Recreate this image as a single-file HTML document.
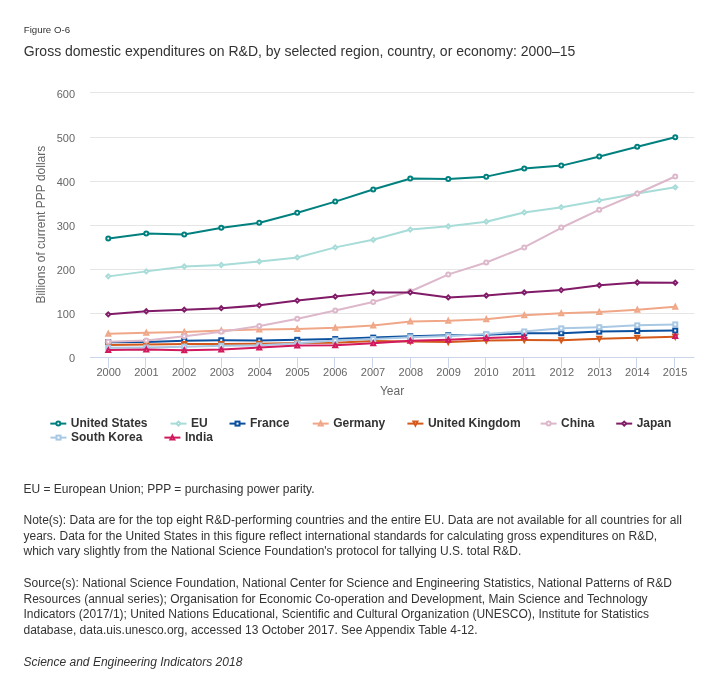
<!DOCTYPE html>
<html><head><meta charset="utf-8"><title>Figure O-6</title>
<style>
html,body{margin:0;padding:0;background:#fff;}
body{width:724px;height:693px;overflow:hidden;position:relative;font-family:"Liberation Sans",sans-serif;}
svg{position:absolute;left:0;top:0;will-change:transform;}
text{font-family:"Liberation Sans",sans-serif;}
.ax{font-size:11px;fill:#666666;}
.at{font-size:12px;fill:#666666;}
.lg{font-size:12px;font-weight:bold;fill:#333333;}
.nt{font-size:12px;fill:#333333;}
.fig{font-size:9.7px;fill:#333333;}
.ttl{font-size:14px;fill:#333333;}
</style></head>
<body>
<svg width="724" height="693" viewBox="0 0 724 693">
<text x="23.8" y="32.9" class="fig">Figure O-6</text>
<text x="23.8" y="55.6" class="ttl">Gross domestic expenditures on R&amp;D, by selected region, country, or economy: 2000–15</text>
<rect x="90" y="92" width="604.5" height="1" fill="#e6e6e6"/>
<rect x="90" y="137" width="604.5" height="1" fill="#e6e6e6"/>
<rect x="90" y="181" width="604.5" height="1" fill="#e6e6e6"/>
<rect x="90" y="225" width="604.5" height="1" fill="#e6e6e6"/>
<rect x="90" y="269" width="604.5" height="1" fill="#e6e6e6"/>
<rect x="90" y="313" width="604.5" height="1" fill="#e6e6e6"/>
<rect x="90" y="357" width="604.5" height="1" fill="#ccd6eb"/>
<rect x="108" y="358" width="1" height="10" fill="#ccd6eb"/>
<rect x="145" y="358" width="1" height="10" fill="#ccd6eb"/>
<rect x="183" y="358" width="1" height="10" fill="#ccd6eb"/>
<rect x="221" y="358" width="1" height="10" fill="#ccd6eb"/>
<rect x="259" y="358" width="1" height="10" fill="#ccd6eb"/>
<rect x="297" y="358" width="1" height="10" fill="#ccd6eb"/>
<rect x="334" y="358" width="1" height="10" fill="#ccd6eb"/>
<rect x="372" y="358" width="1" height="10" fill="#ccd6eb"/>
<rect x="410" y="358" width="1" height="10" fill="#ccd6eb"/>
<rect x="448" y="358" width="1" height="10" fill="#ccd6eb"/>
<rect x="485" y="358" width="1" height="10" fill="#ccd6eb"/>
<rect x="523" y="358" width="1" height="10" fill="#ccd6eb"/>
<rect x="561" y="358" width="1" height="10" fill="#ccd6eb"/>
<rect x="599" y="358" width="1" height="10" fill="#ccd6eb"/>
<rect x="636" y="358" width="1" height="10" fill="#ccd6eb"/>
<rect x="674" y="358" width="1" height="10" fill="#ccd6eb"/>
<text x="75" y="362" text-anchor="end" class="ax">0</text>
<text x="75" y="318" text-anchor="end" class="ax">100</text>
<text x="75" y="274" text-anchor="end" class="ax">200</text>
<text x="75" y="230" text-anchor="end" class="ax">300</text>
<text x="75" y="186" text-anchor="end" class="ax">400</text>
<text x="75" y="142" text-anchor="end" class="ax">500</text>
<text x="75" y="98" text-anchor="end" class="ax">600</text>
<text x="108.70" y="376" text-anchor="middle" class="ax">2000</text>
<text x="146.46" y="376" text-anchor="middle" class="ax">2001</text>
<text x="184.22" y="376" text-anchor="middle" class="ax">2002</text>
<text x="221.98" y="376" text-anchor="middle" class="ax">2003</text>
<text x="259.74" y="376" text-anchor="middle" class="ax">2004</text>
<text x="297.50" y="376" text-anchor="middle" class="ax">2005</text>
<text x="335.26" y="376" text-anchor="middle" class="ax">2006</text>
<text x="373.02" y="376" text-anchor="middle" class="ax">2007</text>
<text x="410.78" y="376" text-anchor="middle" class="ax">2008</text>
<text x="448.54" y="376" text-anchor="middle" class="ax">2009</text>
<text x="486.30" y="376" text-anchor="middle" class="ax">2010</text>
<text x="524.06" y="376" text-anchor="middle" class="ax">2011</text>
<text x="561.82" y="376" text-anchor="middle" class="ax">2012</text>
<text x="599.58" y="376" text-anchor="middle" class="ax">2013</text>
<text x="637.34" y="376" text-anchor="middle" class="ax">2014</text>
<text x="675.10" y="376" text-anchor="middle" class="ax">2015</text>
<text x="392" y="394.7" text-anchor="middle" class="at">Year</text>
<text transform="translate(45.2 224.7) rotate(-90)" text-anchor="middle" class="at">Billions of current PPP dollars</text>
<path d="M108.70 238.43L146.46 233.61L184.22 234.50L221.98 227.65L259.74 222.79L297.50 212.81L335.26 201.59L373.02 189.45L410.78 178.54L448.54 178.93L486.30 176.64L524.06 168.47L561.82 165.60L599.58 156.41L637.34 146.83L675.10 137.33" fill="none" stroke="#00807e" stroke-width="2" stroke-linejoin="round" stroke-linecap="round"/>
<circle cx="108.25" cy="238.43" r="2.0" fill="#fff" stroke="#00807e" stroke-width="2"/>
<circle cx="146.25" cy="233.61" r="2.0" fill="#fff" stroke="#00807e" stroke-width="2"/>
<circle cx="184.25" cy="234.50" r="2.0" fill="#fff" stroke="#00807e" stroke-width="2"/>
<circle cx="221.25" cy="227.65" r="2.0" fill="#fff" stroke="#00807e" stroke-width="2"/>
<circle cx="259.25" cy="222.79" r="2.0" fill="#fff" stroke="#00807e" stroke-width="2"/>
<circle cx="297.25" cy="212.81" r="2.0" fill="#fff" stroke="#00807e" stroke-width="2"/>
<circle cx="335.25" cy="201.59" r="2.0" fill="#fff" stroke="#00807e" stroke-width="2"/>
<circle cx="373.25" cy="189.45" r="2.0" fill="#fff" stroke="#00807e" stroke-width="2"/>
<circle cx="410.25" cy="178.54" r="2.0" fill="#fff" stroke="#00807e" stroke-width="2"/>
<circle cx="448.25" cy="178.93" r="2.0" fill="#fff" stroke="#00807e" stroke-width="2"/>
<circle cx="486.25" cy="176.64" r="2.0" fill="#fff" stroke="#00807e" stroke-width="2"/>
<circle cx="524.25" cy="168.47" r="2.0" fill="#fff" stroke="#00807e" stroke-width="2"/>
<circle cx="561.25" cy="165.60" r="2.0" fill="#fff" stroke="#00807e" stroke-width="2"/>
<circle cx="599.25" cy="156.41" r="2.0" fill="#fff" stroke="#00807e" stroke-width="2"/>
<circle cx="637.25" cy="146.83" r="2.0" fill="#fff" stroke="#00807e" stroke-width="2"/>
<circle cx="675.25" cy="137.33" r="2.0" fill="#fff" stroke="#00807e" stroke-width="2"/>
<path d="M108.70 276.37L146.46 271.38L184.22 266.52L221.98 264.97L259.74 261.53L297.50 257.42L335.26 247.39L373.02 239.80L410.78 229.59L448.54 226.33L486.30 221.69L524.06 212.41L561.82 207.20L599.58 200.40L637.34 193.51L675.10 187.33" fill="none" stroke="#a7dcd8" stroke-width="2" stroke-linejoin="round" stroke-linecap="round"/>
<path d="M108.25 274.37L110.25 276.37L108.25 278.37L106.25 276.37Z" fill="#fff" stroke="#a7dcd8" stroke-width="2"/>
<path d="M146.25 269.38L148.25 271.38L146.25 273.38L144.25 271.38Z" fill="#fff" stroke="#a7dcd8" stroke-width="2"/>
<path d="M184.25 264.52L186.25 266.52L184.25 268.52L182.25 266.52Z" fill="#fff" stroke="#a7dcd8" stroke-width="2"/>
<path d="M221.25 262.97L223.25 264.97L221.25 266.97L219.25 264.97Z" fill="#fff" stroke="#a7dcd8" stroke-width="2"/>
<path d="M259.25 259.53L261.25 261.53L259.25 263.53L257.25 261.53Z" fill="#fff" stroke="#a7dcd8" stroke-width="2"/>
<path d="M297.25 255.42L299.25 257.42L297.25 259.42L295.25 257.42Z" fill="#fff" stroke="#a7dcd8" stroke-width="2"/>
<path d="M335.25 245.39L337.25 247.39L335.25 249.39L333.25 247.39Z" fill="#fff" stroke="#a7dcd8" stroke-width="2"/>
<path d="M373.25 237.80L375.25 239.80L373.25 241.80L371.25 239.80Z" fill="#fff" stroke="#a7dcd8" stroke-width="2"/>
<path d="M410.25 227.59L412.25 229.59L410.25 231.59L408.25 229.59Z" fill="#fff" stroke="#a7dcd8" stroke-width="2"/>
<path d="M448.25 224.33L450.25 226.33L448.25 228.33L446.25 226.33Z" fill="#fff" stroke="#a7dcd8" stroke-width="2"/>
<path d="M486.25 219.69L488.25 221.69L486.25 223.69L484.25 221.69Z" fill="#fff" stroke="#a7dcd8" stroke-width="2"/>
<path d="M524.25 210.41L526.25 212.41L524.25 214.41L522.25 212.41Z" fill="#fff" stroke="#a7dcd8" stroke-width="2"/>
<path d="M561.25 205.20L563.25 207.20L561.25 209.20L559.25 207.20Z" fill="#fff" stroke="#a7dcd8" stroke-width="2"/>
<path d="M599.25 198.40L601.25 200.40L599.25 202.40L597.25 200.40Z" fill="#fff" stroke="#a7dcd8" stroke-width="2"/>
<path d="M637.25 191.51L639.25 193.51L637.25 195.51L635.25 193.51Z" fill="#fff" stroke="#a7dcd8" stroke-width="2"/>
<path d="M675.25 185.33L677.25 187.33L675.25 189.33L673.25 187.33Z" fill="#fff" stroke="#a7dcd8" stroke-width="2"/>
<path d="M108.70 342.26L146.46 342.04L184.22 340.72L221.98 340.27L259.74 340.50L297.50 339.83L335.26 339.04L373.02 337.62L410.78 336.30L448.54 335.28L486.30 334.80L524.06 333.21L561.82 333.21L599.58 331.62L637.34 331.00L675.10 330.56" fill="none" stroke="#0b4f9f" stroke-width="2" stroke-linejoin="round" stroke-linecap="round"/>
<rect x="106.25" y="340.26" width="4.0" height="4.0" fill="#fff" stroke="#0b4f9f" stroke-width="2"/>
<rect x="144.25" y="340.04" width="4.0" height="4.0" fill="#fff" stroke="#0b4f9f" stroke-width="2"/>
<rect x="182.25" y="338.72" width="4.0" height="4.0" fill="#fff" stroke="#0b4f9f" stroke-width="2"/>
<rect x="219.25" y="338.27" width="4.0" height="4.0" fill="#fff" stroke="#0b4f9f" stroke-width="2"/>
<rect x="257.25" y="338.50" width="4.0" height="4.0" fill="#fff" stroke="#0b4f9f" stroke-width="2"/>
<rect x="295.25" y="337.83" width="4.0" height="4.0" fill="#fff" stroke="#0b4f9f" stroke-width="2"/>
<rect x="333.25" y="337.04" width="4.0" height="4.0" fill="#fff" stroke="#0b4f9f" stroke-width="2"/>
<rect x="371.25" y="335.62" width="4.0" height="4.0" fill="#fff" stroke="#0b4f9f" stroke-width="2"/>
<rect x="408.25" y="334.30" width="4.0" height="4.0" fill="#fff" stroke="#0b4f9f" stroke-width="2"/>
<rect x="446.25" y="333.28" width="4.0" height="4.0" fill="#fff" stroke="#0b4f9f" stroke-width="2"/>
<rect x="484.25" y="332.80" width="4.0" height="4.0" fill="#fff" stroke="#0b4f9f" stroke-width="2"/>
<rect x="522.25" y="331.21" width="4.0" height="4.0" fill="#fff" stroke="#0b4f9f" stroke-width="2"/>
<rect x="559.25" y="331.21" width="4.0" height="4.0" fill="#fff" stroke="#0b4f9f" stroke-width="2"/>
<rect x="597.25" y="329.62" width="4.0" height="4.0" fill="#fff" stroke="#0b4f9f" stroke-width="2"/>
<rect x="635.25" y="329.00" width="4.0" height="4.0" fill="#fff" stroke="#0b4f9f" stroke-width="2"/>
<rect x="673.25" y="328.56" width="4.0" height="4.0" fill="#fff" stroke="#0b4f9f" stroke-width="2"/>
<path d="M108.70 333.74L146.46 332.68L184.22 331.88L221.98 330.56L259.74 329.45L297.50 328.88L335.26 327.78L373.02 325.48L410.78 321.50L448.54 320.84L486.30 319.30L524.06 315.19L561.82 313.33L599.58 312.01L637.34 309.80L675.10 306.71" fill="none" stroke="#f0a788" stroke-width="2" stroke-linejoin="round" stroke-linecap="round"/>
<path d="M108.25 331.74L110.25 335.74L106.25 335.74Z" fill="#fff" stroke="#f0a788" stroke-width="2"/>
<path d="M146.25 330.68L148.25 334.68L144.25 334.68Z" fill="#fff" stroke="#f0a788" stroke-width="2"/>
<path d="M184.25 329.88L186.25 333.88L182.25 333.88Z" fill="#fff" stroke="#f0a788" stroke-width="2"/>
<path d="M221.25 328.56L223.25 332.56L219.25 332.56Z" fill="#fff" stroke="#f0a788" stroke-width="2"/>
<path d="M259.25 327.45L261.25 331.45L257.25 331.45Z" fill="#fff" stroke="#f0a788" stroke-width="2"/>
<path d="M297.25 326.88L299.25 330.88L295.25 330.88Z" fill="#fff" stroke="#f0a788" stroke-width="2"/>
<path d="M335.25 325.78L337.25 329.78L333.25 329.78Z" fill="#fff" stroke="#f0a788" stroke-width="2"/>
<path d="M373.25 323.48L375.25 327.48L371.25 327.48Z" fill="#fff" stroke="#f0a788" stroke-width="2"/>
<path d="M410.25 319.50L412.25 323.50L408.25 323.50Z" fill="#fff" stroke="#f0a788" stroke-width="2"/>
<path d="M448.25 318.84L450.25 322.84L446.25 322.84Z" fill="#fff" stroke="#f0a788" stroke-width="2"/>
<path d="M486.25 317.30L488.25 321.30L484.25 321.30Z" fill="#fff" stroke="#f0a788" stroke-width="2"/>
<path d="M524.25 313.19L526.25 317.19L522.25 317.19Z" fill="#fff" stroke="#f0a788" stroke-width="2"/>
<path d="M561.25 311.33L563.25 315.33L559.25 315.33Z" fill="#fff" stroke="#f0a788" stroke-width="2"/>
<path d="M599.25 310.01L601.25 314.01L597.25 314.01Z" fill="#fff" stroke="#f0a788" stroke-width="2"/>
<path d="M637.25 307.80L639.25 311.80L635.25 311.80Z" fill="#fff" stroke="#f0a788" stroke-width="2"/>
<path d="M675.25 304.71L677.25 308.71L673.25 308.71Z" fill="#fff" stroke="#f0a788" stroke-width="2"/>
<path d="M108.70 344.91L146.46 344.47L184.22 344.12L221.98 344.03L259.74 343.81L297.50 342.93L335.26 342.70L373.02 340.94L410.78 341.38L448.54 342.04L486.30 340.58L524.06 340.05L561.82 340.27L599.58 338.82L637.34 337.80L675.10 336.74" fill="none" stroke="#d4591b" stroke-width="2" stroke-linejoin="round" stroke-linecap="round"/>
<path d="M106.25 342.91L110.25 342.91L108.25 346.91Z" fill="#fff" stroke="#d4591b" stroke-width="2"/>
<path d="M144.25 342.47L148.25 342.47L146.25 346.47Z" fill="#fff" stroke="#d4591b" stroke-width="2"/>
<path d="M182.25 342.12L186.25 342.12L184.25 346.12Z" fill="#fff" stroke="#d4591b" stroke-width="2"/>
<path d="M219.25 342.03L223.25 342.03L221.25 346.03Z" fill="#fff" stroke="#d4591b" stroke-width="2"/>
<path d="M257.25 341.81L261.25 341.81L259.25 345.81Z" fill="#fff" stroke="#d4591b" stroke-width="2"/>
<path d="M295.25 340.93L299.25 340.93L297.25 344.93Z" fill="#fff" stroke="#d4591b" stroke-width="2"/>
<path d="M333.25 340.70L337.25 340.70L335.25 344.70Z" fill="#fff" stroke="#d4591b" stroke-width="2"/>
<path d="M371.25 338.94L375.25 338.94L373.25 342.94Z" fill="#fff" stroke="#d4591b" stroke-width="2"/>
<path d="M408.25 339.38L412.25 339.38L410.25 343.38Z" fill="#fff" stroke="#d4591b" stroke-width="2"/>
<path d="M446.25 340.04L450.25 340.04L448.25 344.04Z" fill="#fff" stroke="#d4591b" stroke-width="2"/>
<path d="M484.25 338.58L488.25 338.58L486.25 342.58Z" fill="#fff" stroke="#d4591b" stroke-width="2"/>
<path d="M522.25 338.05L526.25 338.05L524.25 342.05Z" fill="#fff" stroke="#d4591b" stroke-width="2"/>
<path d="M559.25 338.27L563.25 338.27L561.25 342.27Z" fill="#fff" stroke="#d4591b" stroke-width="2"/>
<path d="M597.25 336.82L601.25 336.82L599.25 340.82Z" fill="#fff" stroke="#d4591b" stroke-width="2"/>
<path d="M635.25 335.80L639.25 335.80L637.25 339.80Z" fill="#fff" stroke="#d4591b" stroke-width="2"/>
<path d="M673.25 334.74L677.25 334.74L675.25 338.74Z" fill="#fff" stroke="#d4591b" stroke-width="2"/>
<path d="M108.70 341.82L146.46 340.50L184.22 336.21L221.98 331.66L259.74 325.92L297.50 318.72L335.26 310.51L373.02 302.07L410.78 291.25L448.54 274.42L486.30 262.54L524.06 247.39L561.82 227.52L599.58 209.63L637.34 193.51L675.10 176.50" fill="none" stroke="#dcb8ca" stroke-width="2" stroke-linejoin="round" stroke-linecap="round"/>
<circle cx="108.25" cy="341.82" r="2.0" fill="#fff" stroke="#dcb8ca" stroke-width="2"/>
<circle cx="146.25" cy="340.50" r="2.0" fill="#fff" stroke="#dcb8ca" stroke-width="2"/>
<circle cx="184.25" cy="336.21" r="2.0" fill="#fff" stroke="#dcb8ca" stroke-width="2"/>
<circle cx="221.25" cy="331.66" r="2.0" fill="#fff" stroke="#dcb8ca" stroke-width="2"/>
<circle cx="259.25" cy="325.92" r="2.0" fill="#fff" stroke="#dcb8ca" stroke-width="2"/>
<circle cx="297.25" cy="318.72" r="2.0" fill="#fff" stroke="#dcb8ca" stroke-width="2"/>
<circle cx="335.25" cy="310.51" r="2.0" fill="#fff" stroke="#dcb8ca" stroke-width="2"/>
<circle cx="373.25" cy="302.07" r="2.0" fill="#fff" stroke="#dcb8ca" stroke-width="2"/>
<circle cx="410.25" cy="291.25" r="2.0" fill="#fff" stroke="#dcb8ca" stroke-width="2"/>
<circle cx="448.25" cy="274.42" r="2.0" fill="#fff" stroke="#dcb8ca" stroke-width="2"/>
<circle cx="486.25" cy="262.54" r="2.0" fill="#fff" stroke="#dcb8ca" stroke-width="2"/>
<circle cx="524.25" cy="247.39" r="2.0" fill="#fff" stroke="#dcb8ca" stroke-width="2"/>
<circle cx="561.25" cy="227.52" r="2.0" fill="#fff" stroke="#dcb8ca" stroke-width="2"/>
<circle cx="599.25" cy="209.63" r="2.0" fill="#fff" stroke="#dcb8ca" stroke-width="2"/>
<circle cx="637.25" cy="193.51" r="2.0" fill="#fff" stroke="#dcb8ca" stroke-width="2"/>
<circle cx="675.25" cy="176.50" r="2.0" fill="#fff" stroke="#dcb8ca" stroke-width="2"/>
<path d="M108.70 314.35L146.46 311.26L184.22 309.67L221.98 308.21L259.74 305.34L297.50 300.61L335.26 296.59L373.02 292.62L410.78 292.40L448.54 297.39L486.30 295.58L524.06 292.44L561.82 290.10L599.58 285.29L637.34 282.50L675.10 282.73" fill="none" stroke="#811b68" stroke-width="2" stroke-linejoin="round" stroke-linecap="round"/>
<path d="M108.25 312.35L110.25 314.35L108.25 316.35L106.25 314.35Z" fill="#fff" stroke="#811b68" stroke-width="2"/>
<path d="M146.25 309.26L148.25 311.26L146.25 313.26L144.25 311.26Z" fill="#fff" stroke="#811b68" stroke-width="2"/>
<path d="M184.25 307.67L186.25 309.67L184.25 311.67L182.25 309.67Z" fill="#fff" stroke="#811b68" stroke-width="2"/>
<path d="M221.25 306.21L223.25 308.21L221.25 310.21L219.25 308.21Z" fill="#fff" stroke="#811b68" stroke-width="2"/>
<path d="M259.25 303.34L261.25 305.34L259.25 307.34L257.25 305.34Z" fill="#fff" stroke="#811b68" stroke-width="2"/>
<path d="M297.25 298.61L299.25 300.61L297.25 302.61L295.25 300.61Z" fill="#fff" stroke="#811b68" stroke-width="2"/>
<path d="M335.25 294.59L337.25 296.59L335.25 298.59L333.25 296.59Z" fill="#fff" stroke="#811b68" stroke-width="2"/>
<path d="M373.25 290.62L375.25 292.62L373.25 294.62L371.25 292.62Z" fill="#fff" stroke="#811b68" stroke-width="2"/>
<path d="M410.25 290.40L412.25 292.40L410.25 294.40L408.25 292.40Z" fill="#fff" stroke="#811b68" stroke-width="2"/>
<path d="M448.25 295.39L450.25 297.39L448.25 299.39L446.25 297.39Z" fill="#fff" stroke="#811b68" stroke-width="2"/>
<path d="M486.25 293.58L488.25 295.58L486.25 297.58L484.25 295.58Z" fill="#fff" stroke="#811b68" stroke-width="2"/>
<path d="M524.25 290.44L526.25 292.44L524.25 294.44L522.25 292.44Z" fill="#fff" stroke="#811b68" stroke-width="2"/>
<path d="M561.25 288.10L563.25 290.10L561.25 292.10L559.25 290.10Z" fill="#fff" stroke="#811b68" stroke-width="2"/>
<path d="M599.25 283.29L601.25 285.29L599.25 287.29L597.25 285.29Z" fill="#fff" stroke="#811b68" stroke-width="2"/>
<path d="M637.25 280.50L639.25 282.50L637.25 284.50L635.25 282.50Z" fill="#fff" stroke="#811b68" stroke-width="2"/>
<path d="M675.25 280.73L677.25 282.73L675.25 284.73L673.25 282.73Z" fill="#fff" stroke="#811b68" stroke-width="2"/>
<path d="M108.70 347.69L146.46 347.47L184.22 346.68L221.98 345.80L259.74 345.35L297.50 343.37L335.26 340.50L373.02 339.04L410.78 337.18L448.54 336.08L486.30 333.92L524.06 331.44L561.82 328.35L599.58 327.20L637.34 325.35L675.10 324.42" fill="none" stroke="#a9c8e3" stroke-width="2" stroke-linejoin="round" stroke-linecap="round"/>
<rect x="106.25" y="345.69" width="4.0" height="4.0" fill="#fff" stroke="#a9c8e3" stroke-width="2"/>
<rect x="144.25" y="345.47" width="4.0" height="4.0" fill="#fff" stroke="#a9c8e3" stroke-width="2"/>
<rect x="182.25" y="344.68" width="4.0" height="4.0" fill="#fff" stroke="#a9c8e3" stroke-width="2"/>
<rect x="219.25" y="343.80" width="4.0" height="4.0" fill="#fff" stroke="#a9c8e3" stroke-width="2"/>
<rect x="257.25" y="343.35" width="4.0" height="4.0" fill="#fff" stroke="#a9c8e3" stroke-width="2"/>
<rect x="295.25" y="341.37" width="4.0" height="4.0" fill="#fff" stroke="#a9c8e3" stroke-width="2"/>
<rect x="333.25" y="338.50" width="4.0" height="4.0" fill="#fff" stroke="#a9c8e3" stroke-width="2"/>
<rect x="371.25" y="337.04" width="4.0" height="4.0" fill="#fff" stroke="#a9c8e3" stroke-width="2"/>
<rect x="408.25" y="335.18" width="4.0" height="4.0" fill="#fff" stroke="#a9c8e3" stroke-width="2"/>
<rect x="446.25" y="334.08" width="4.0" height="4.0" fill="#fff" stroke="#a9c8e3" stroke-width="2"/>
<rect x="484.25" y="331.92" width="4.0" height="4.0" fill="#fff" stroke="#a9c8e3" stroke-width="2"/>
<rect x="522.25" y="329.44" width="4.0" height="4.0" fill="#fff" stroke="#a9c8e3" stroke-width="2"/>
<rect x="559.25" y="326.35" width="4.0" height="4.0" fill="#fff" stroke="#a9c8e3" stroke-width="2"/>
<rect x="597.25" y="325.20" width="4.0" height="4.0" fill="#fff" stroke="#a9c8e3" stroke-width="2"/>
<rect x="635.25" y="323.35" width="4.0" height="4.0" fill="#fff" stroke="#a9c8e3" stroke-width="2"/>
<rect x="673.25" y="322.42" width="4.0" height="4.0" fill="#fff" stroke="#a9c8e3" stroke-width="2"/>
<path d="M108.70 350.12L146.46 349.42L184.22 350.21L221.98 349.51L259.74 347.56L297.50 345.57L335.26 345.35L373.02 343.15L410.78 340.72L448.54 339.70L486.30 337.98L524.06 336.65" fill="none" stroke="#d1195e" stroke-width="2" stroke-linejoin="round" stroke-linecap="round"/>
<path d="M108.25 348.12L110.25 352.12L106.25 352.12Z" fill="#fff" stroke="#d1195e" stroke-width="2"/>
<path d="M146.25 347.42L148.25 351.42L144.25 351.42Z" fill="#fff" stroke="#d1195e" stroke-width="2"/>
<path d="M184.25 348.21L186.25 352.21L182.25 352.21Z" fill="#fff" stroke="#d1195e" stroke-width="2"/>
<path d="M221.25 347.51L223.25 351.51L219.25 351.51Z" fill="#fff" stroke="#d1195e" stroke-width="2"/>
<path d="M259.25 345.56L261.25 349.56L257.25 349.56Z" fill="#fff" stroke="#d1195e" stroke-width="2"/>
<path d="M297.25 343.57L299.25 347.57L295.25 347.57Z" fill="#fff" stroke="#d1195e" stroke-width="2"/>
<path d="M335.25 343.35L337.25 347.35L333.25 347.35Z" fill="#fff" stroke="#d1195e" stroke-width="2"/>
<path d="M373.25 341.15L375.25 345.15L371.25 345.15Z" fill="#fff" stroke="#d1195e" stroke-width="2"/>
<path d="M410.25 338.72L412.25 342.72L408.25 342.72Z" fill="#fff" stroke="#d1195e" stroke-width="2"/>
<path d="M448.25 337.70L450.25 341.70L446.25 341.70Z" fill="#fff" stroke="#d1195e" stroke-width="2"/>
<path d="M486.25 335.98L488.25 339.98L484.25 339.98Z" fill="#fff" stroke="#d1195e" stroke-width="2"/>
<path d="M524.25 334.65L526.25 338.65L522.25 338.65Z" fill="#fff" stroke="#d1195e" stroke-width="2"/>
<path d="M675.25 333.99L677.25 337.99L673.25 337.99Z" fill="#fff" stroke="#d1195e" stroke-width="2"/>
<path d="M50.30 423.60L66.30 423.60" stroke="#00807e" stroke-width="2"/>
<circle cx="58.30" cy="423.60" r="2.0" fill="#fff" stroke="#00807e" stroke-width="2"/>
<text x="70.80" y="426.70" class="lg">United States</text>
<path d="M170.50 423.60L186.50 423.60" stroke="#a7dcd8" stroke-width="2"/>
<path d="M178.50 421.60L180.50 423.60L178.50 425.60L176.50 423.60Z" fill="#fff" stroke="#a7dcd8" stroke-width="2"/>
<text x="191.00" y="426.70" class="lg">EU</text>
<path d="M229.50 423.60L245.50 423.60" stroke="#0b4f9f" stroke-width="2"/>
<rect x="235.50" y="421.60" width="4.0" height="4.0" fill="#fff" stroke="#0b4f9f" stroke-width="2"/>
<text x="250.00" y="426.70" class="lg">France</text>
<path d="M312.70 423.60L328.70 423.60" stroke="#f0a788" stroke-width="2"/>
<path d="M320.70 421.60L322.70 425.60L318.70 425.60Z" fill="#fff" stroke="#f0a788" stroke-width="2"/>
<text x="333.20" y="426.70" class="lg">Germany</text>
<path d="M407.40 423.60L423.40 423.60" stroke="#d4591b" stroke-width="2"/>
<path d="M413.40 421.60L417.40 421.60L415.40 425.60Z" fill="#fff" stroke="#d4591b" stroke-width="2"/>
<text x="427.90" y="426.70" class="lg">United Kingdom</text>
<path d="M540.60 423.60L556.60 423.60" stroke="#dcb8ca" stroke-width="2"/>
<circle cx="548.60" cy="423.60" r="2.0" fill="#fff" stroke="#dcb8ca" stroke-width="2"/>
<text x="561.10" y="426.70" class="lg">China</text>
<path d="M616.20 423.60L632.20 423.60" stroke="#811b68" stroke-width="2"/>
<path d="M624.20 421.60L626.20 423.60L624.20 425.60L622.20 423.60Z" fill="#fff" stroke="#811b68" stroke-width="2"/>
<text x="636.70" y="426.70" class="lg">Japan</text>
<path d="M50.50 437.60L66.50 437.60" stroke="#a9c8e3" stroke-width="2"/>
<rect x="56.50" y="435.60" width="4.0" height="4.0" fill="#fff" stroke="#a9c8e3" stroke-width="2"/>
<text x="71.00" y="440.70" class="lg">South Korea</text>
<path d="M164.40 437.60L180.40 437.60" stroke="#d1195e" stroke-width="2"/>
<path d="M172.40 435.60L174.40 439.60L170.40 439.60Z" fill="#fff" stroke="#d1195e" stroke-width="2"/>
<text x="184.90" y="440.70" class="lg">India</text>
<text x="23.5" y="492.7" class="nt" style="">EU = European Union; PPP = purchasing power parity.</text>
<text x="23.5" y="523.8" class="nt" style="">Note(s): Data are for the top eight R&amp;D-performing countries and the entire EU. Data are not available for all countries for all</text>
<text x="23.5" y="539.6" class="nt" style="">years. Data for the United States in this figure reflect international standards for calculating gross expenditures on R&amp;D,</text>
<text x="23.5" y="555.4" class="nt" style="">which vary slightly from the National Science Foundation&#39;s protocol for tallying U.S. total R&amp;D.</text>
<text x="23.5" y="586.8" class="nt" style="">Source(s): National Science Foundation, National Center for Science and Engineering Statistics, National Patterns of R&amp;D</text>
<text x="23.5" y="602.6" class="nt" style="">Resources (annual series); Organisation for Economic Co-operation and Development, Main Science and Technology</text>
<text x="23.5" y="618.4" class="nt" style="">Indicators (2017/1); United Nations Educational, Scientific and Cultural Organization (UNESCO), Institute for Statistics</text>
<text x="23.5" y="634.2" class="nt" style="">database, data.uis.unesco.org, accessed 13 October 2017. See Appendix Table 4-12.</text>
<text x="23.5" y="665.6" class="nt" style="font-style:italic;">Science and Engineering Indicators 2018</text>
</svg>
</body></html>
